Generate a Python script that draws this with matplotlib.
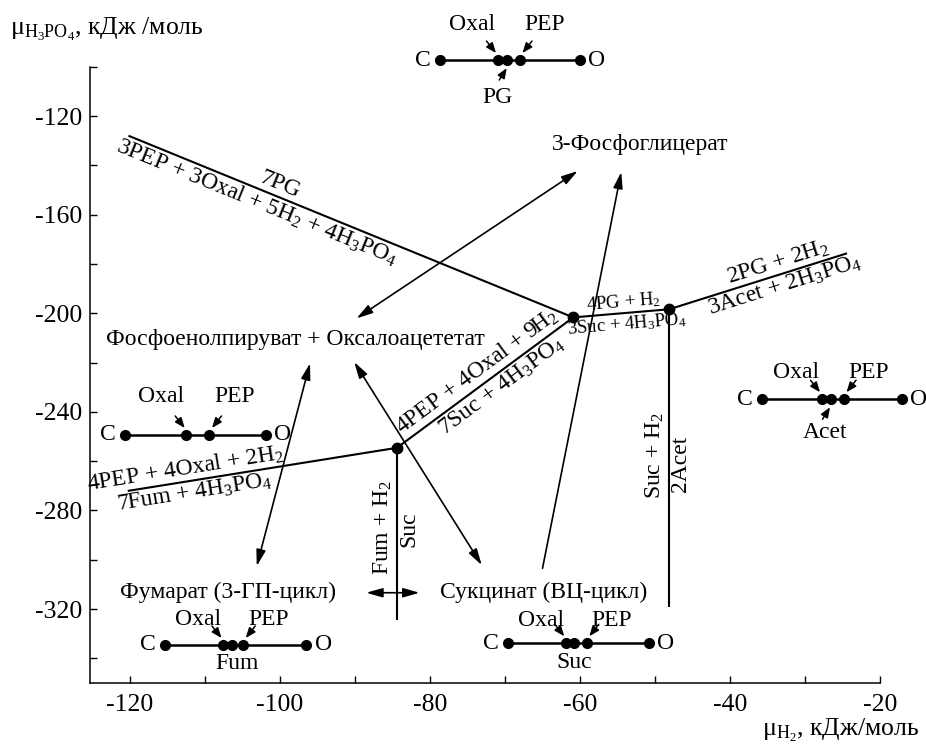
import math
import numpy as np
import matplotlib
matplotlib.use("Agg")
import matplotlib.pyplot as plt
from matplotlib.patches import FancyArrowPatch, ArrowStyle

plt.rcParams['font.family'] = ['Liberation Serif', 'DejaVu Serif']
plt.rcParams['mathtext.fontset'] = 'custom'
plt.rcParams['mathtext.rm'] = 'Liberation Serif'
plt.rcParams['mathtext.it'] = 'Liberation Serif:italic'
plt.rcParams['mathtext.bf'] = 'Liberation Serif:bold'
plt.rcParams['axes.unicode_minus'] = False

# --- данные: узлы равновесия (mu_H2, mu_H3PO4), кДж/моль ---
node_x = [-60.9, -48.1, -84.4]
node_y = [-201.7, -198.4, -254.6]

# концы линий реакций
pg_line_start = (-120.2, -128.0)     # 7PG / 3PEP + 3Oxal + ...
acet_line_end = (-24.4, -175.7)      # 2PG + 2H2 / 3Acet + ...
fum_line_start = (-120.3, -272.1)    # 4PEP + 4Oxal + 2H2 / 7Fum + ...
suc_vert_end = -324.5                # Fum + H2 / Suc
acet_vert_end = -319.1               # Suc + H2 / 2Acet

# стрелки между областями
arrow_a = [(-89.8, -202.1), (-60.3, -142.3)]
arrow_b = [(-96.0, -220.3), (-103.1, -302.6)]
arrow_c = [(-90.1, -219.8), (-73.1, -302.2)]
arrow_d = [(-65.0, -303.5), (-54.5, -142.7)]
arrow_h = [(-88.5, -313.4), (-81.4, -313.4)]

# мини-диаграммы C ... O
top_y, top_x = -97.3, [-78.7, -71.0, -69.7, -68.0, -60.0]
top_lab = ['C', 'Oxal', 'PG', 'PEP', 'O']
left_y, left_x = -249.4, [-120.7, -112.5, -109.4, -101.9]
left_lab = ['C', 'Oxal', 'PEP', 'O']
right_y, right_x = -234.9, [-35.8, -27.8, -26.6, -24.8, -17.1]
right_lab = ['C', 'Oxal', 'Acet', 'PEP', 'O']
fum_y, fum_x = -334.6, [-115.3, -107.6, -106.4, -104.9, -96.5]
fum_lab = ['C', 'Oxal', 'Fum', 'PEP', 'O']
suc_y, suc_x = -333.9, [-69.6, -61.9, -60.8, -59.1, -50.8]
suc_lab = ['C', 'Oxal', 'Suc', 'PEP', 'O']

x_ticks = list(range(-120, -19, 10))
y_ticks = list(range(-340, -99, 20))

FS = 17

fig = plt.figure(figsize=(9.26, 7.47), dpi=100)
ax = fig.add_axes([0, 0, 1, 1])
ax.set_xlim(-137.33, -13.87)
ax.set_ylim(-375.98, -72.94)
ax.patch.set_alpha(0)
fig.patch.set_facecolor('white')

for s in ['top', 'right']:
    ax.spines[s].set_visible(False)
ax.spines['left'].set_position(('data', -125.3))
ax.spines['left'].set_bounds(-350, -100)
ax.spines['bottom'].set_position(('data', -350))
ax.spines['bottom'].set_bounds(-125.3, -20)
for s in ['left', 'bottom']:
    ax.spines[s].set_linewidth(1.1)

ax.set_xticks(x_ticks)
ax.set_xticklabels([str(v) if v % 20 == 0 else '' for v in x_ticks])
ax.set_yticks(y_ticks)
ax.set_yticklabels([str(v) if v % 40 == 0 else '' for v in y_ticks])
ax.tick_params(direction='in', length=5, width=1, labelsize=18.5)
ax.tick_params(axis='x', pad=8)
ax.tick_params(axis='y', pad=6)


def off(x, y, dx, dy):
    # сдвиг точки данных на (dx, dy) пикселей; dy > 0 — вниз
    d = ax.transData.transform((x, y))
    return ax.transData.inverted().transform((d[0] + dx, d[1] - dy))


def seg_label(p0, p1, t, text, side, fs=FS, gap=2):
    d0 = ax.transData.transform(p0)
    d1 = ax.transData.transform(p1)
    ang = math.degrees(math.atan2(d1[1] - d0[1], d1[0] - d0[0]))
    p = d0 + t * (d1 - d0)
    nx, ny = -math.sin(math.radians(ang)), math.cos(math.radians(ang))
    sgn = 1 if side == 'above' else -1
    q = ax.transData.inverted().transform((p[0] + sgn * gap * nx, p[1] + sgn * gap * ny))
    ax.text(q[0], q[1], text, rotation=ang, rotation_mode='anchor', ha='center',
            va='bottom' if side == 'above' else 'top', fontsize=fs)


def line(p0, p1):
    ax.plot([p0[0], p1[0]], [p0[1], p1[1]], color='black', lw=1.5,
            solid_capstyle='butt')


def big_arrow(pts, both=True):
    style = ArrowStyle('<|-|>' if both else '-|>', head_length=0.7, head_width=0.2)
    ax.add_patch(FancyArrowPatch(pts[0], pts[1], arrowstyle=style, mutation_scale=14,
                                 lw=1.2, color='black', shrinkA=0, shrinkB=0))


def small_arrow(x, y, sx, sy, ex, ey):
    a = off(x, y, sx, sy)
    b = off(x, y, ex, ey)
    ax.add_patch(FancyArrowPatch(a, b, arrowstyle=ArrowStyle('-|>', head_length=0.55, head_width=0.22),
                                 mutation_scale=11, lw=1.1, color='black', shrinkA=0, shrinkB=0))


def mini(y, xs, labs, up_dy, below=None):
    ax.plot([xs[0], xs[-1]], [y, y], color='black', lw=1.8)
    ax.plot(xs, [y] * len(xs), 'o', color='black', ms=7)
    for x, lab in zip(xs, labs):
        if lab == 'C':
            ax.text(*off(x, y, -17, 0), lab, ha='center', va='center', fontsize=FS)
        elif lab == 'O':
            ax.text(*off(x, y, 17, 0), lab, ha='center', va='center', fontsize=FS)
        elif lab == 'Oxal':
            ax.text(*off(x, y, -25, -up_dy), lab, ha='center', va='center', fontsize=FS)
            small_arrow(x, y, -11, -19, -1.5, -7)
        elif lab == 'PEP':
            ax.text(*off(x, y, 25, -up_dy), lab, ha='center', va='center', fontsize=FS)
            small_arrow(x, y, 12, -19, 2.5, -7)
        else:
            dx, dy, arr = below
            ax.text(*off(x, y, dx, dy), lab, ha='center', va='center', fontsize=FS)
            if arr:
                small_arrow(x, y, -8, 20, -0.5, 8)


n1 = (node_x[0], node_y[0])
n2 = (node_x[1], node_y[1])
n3 = (node_x[2], node_y[2])
v3 = (node_x[2], suc_vert_end)
v2 = (node_x[1], acet_vert_end)

for a, b in [(pg_line_start, n1), (n1, n2), (n2, acet_line_end), (n3, n1),
             (fum_line_start, n3), (v3, n3), (v2, n2)]:
    line(a, b)
ax.plot(node_x, node_y, 'o', color='black', ms=7.5)

seg_label(pg_line_start, n1, 0.33, '7PG', 'above', gap=1)
seg_label(pg_line_start, n1, 0.30, '3PEP + 3Oxal + 5H$_2$ + 4H$_3$PO$_4$', 'below', gap=1)
seg_label(n3, n1, 0.50, '4PEP + 4Oxal + 9H$_2$', 'above', gap=2)
seg_label(n3, n1, 0.55, '7Suc + 4H$_3$PO$_4$', 'below', gap=2)
seg_label(n1, n2, 0.53, '4PG + H$_2$', 'above', fs=13.5, gap=1)
seg_label(n1, n2, 0.55, '3Suc + 4H$_3$PO$_4$', 'below', fs=13.5, gap=1)
seg_label(n2, acet_line_end, 0.63, '2PG + 2H$_2$', 'above', gap=1)
seg_label(n2, acet_line_end, 0.63, '3Acet + 2H$_3$PO$_4$', 'below', gap=1)
seg_label(fum_line_start, n3, 0.22, '4PEP + 4Oxal + 2H$_2$', 'above', gap=1)
seg_label(fum_line_start, n3, 0.24, '7Fum + 4H$_3$PO$_4$', 'below', gap=1)
seg_label(v3, n3, 0.54, 'Fum + H$_2$', 'above', gap=3)
seg_label(v3, n3, 0.53, 'Suc', 'below', gap=1)
seg_label(v2, n2, 0.51, 'Suc + H$_2$', 'above', gap=3)
seg_label(v2, n2, 0.48, '2Acet', 'below', gap=1)

big_arrow(arrow_a)
big_arrow(arrow_b)
big_arrow(arrow_c)
big_arrow(arrow_d, both=False)
big_arrow(arrow_h)

ax.text(-97.9, -212.9, 'Фосфоенолпируват + Оксалоацететат', ha='center', va='baseline', fontsize=FS)
ax.text(-52.0, -133.8, '3-Фосфоглицерат', ha='center', va='baseline', fontsize=FS)
ax.text(-106.9, -315.7, 'Фумарат (3-ГП-цикл)', ha='center', va='baseline', fontsize=FS)
ax.text(-64.9, -315.7, 'Сукцинат (ВЦ-цикл)', ha='center', va='baseline', fontsize=FS)

mini(top_y, top_x, top_lab, 36, below=(-10, 37, True))
mini(left_y, left_x, left_lab, 38)
mini(right_y, right_x, right_lab, 27, below=(-6, 33, True))
mini(fum_y, fum_x, fum_lab, 25, below=(5, 19, False))
mini(suc_y, suc_x, suc_lab, 23, below=(0, 19, False))

ax.text(-136.0, -87.1, 'μ$_{\\mathrm{H_3PO_4}}$, кДж /моль', ha='left', va='baseline', fontsize=18.5)
ax.text(-14.7, -371.6, 'μ$_{\\mathrm{H_2}}$, кДж/моль', ha='right', va='baseline', fontsize=18.5)

fig.savefig('out.png', dpi=100)
